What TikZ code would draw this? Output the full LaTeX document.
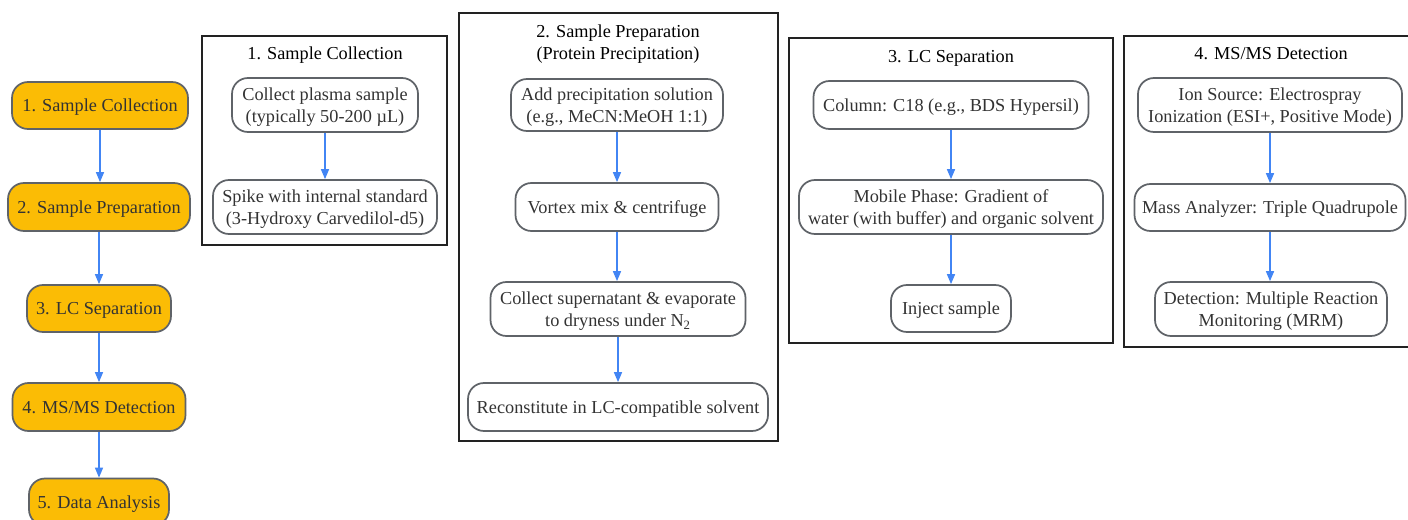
\documentclass[tikz,border=0pt]{standalone}
\usepackage{fontspec}
\setmainfont{Liberation Serif}
\newfontfamily\diagfont{Liberation Serif}
\usetikzlibrary{arrows.meta}
\definecolor{stepfill}{HTML}{FBBC05}
\definecolor{stepline}{HTML}{5F6368}
\definecolor{arrowblue}{HTML}{4285F4}
\definecolor{txt}{HTML}{333333}
\definecolor{boxline}{HTML}{222222}
\tikzset{
  every node/.style={font=\diagfont\fontsize{13.7}{16.5}\selectfont},
  oneline/.style={text height=12.4pt, text depth=3pt},
  twoline/.style={text height=29.8pt, text depth=3pt},
  mainstep/.style={draw=stepline, fill=stepfill, line width=1.3pt, rounded corners=12pt, inner sep=0pt, align=center, text=txt},
  substep/.style={draw=stepline, fill=white, line width=1.3pt, rounded corners=12pt, inner sep=0pt, align=center, text=txt},
  groupbox/.style={draw=boxline, line width=1pt, inner sep=0pt},
  grouptitle/.style={align=center, text=black, inner sep=0pt},
  flow/.style={draw=arrowblue, line width=1.1pt, -{Triangle[length=7.5pt,width=6pt]}},
}
\begin{document}
\begin{tikzpicture}[x=0.75pt,y=-0.75pt]
\clip (0,0) rectangle (1408,520);
\fill[white] (0,0) rectangle (1408,520);

% left column
\node[mainstep, oneline, minimum width=132pt, minimum height=35.25pt] (n1) at (100,105.5) {1. Sample Collection};
\node[mainstep, oneline, minimum width=136.5pt, minimum height=36pt] (n2) at (99,207) {2. Sample Preparation};
\node[mainstep, oneline, minimum width=108pt, minimum height=35.25pt] (n3) at (99,308.5) {3. LC Separation};
\node[mainstep, oneline, minimum width=129.75pt, minimum height=36pt] (n4) at (99,407) {4. MS/MS Detection};
\node[mainstep, oneline, minimum width=105pt, minimum height=35.25pt] (n5) at (99,502) {5. Data Analysis};
\draw[flow] (n1) -- (n1 |- n2.north);
\draw[flow] (n2) -- (n2 |- n3.north);
\draw[flow] (n3) -- (n3 |- n4.north);
\draw[flow] (n4) -- (n4 |- n5.north);

% group 1
\node[groupbox, minimum width=183.75pt, minimum height=156.75pt] (g1) at (324.5,140.5) {};
\node[grouptitle, oneline] (g1t) at (325,53) {1. Sample Collection};
\node[substep, twoline, minimum width=139.5pt, minimum height=40.5pt] (a1) at (325,105) {Collect plasma sample\\(typically 50-200 µL)};
\node[substep, twoline, minimum width=168pt, minimum height=40.5pt] (a2) at (325,207) {Spike with internal standard\\(3-Hydroxy Carvedilol-d5)};
\draw[flow] (a1) -- (a1 |- a2.north);

% group 2
\node[groupbox, minimum width=239.25pt, minimum height=321pt] (g2) at (618.5,227) {};
\node[grouptitle, twoline] (g2t) at (618,42) {2. Sample Preparation\\(Protein Precipitation)};
\node[substep, twoline, minimum width=159pt, minimum height=39pt] (b1) at (617,105) {Add precipitation solution\\(e.g., MeCN:MeOH 1:1)};
\node[substep, oneline, minimum width=152.25pt, minimum height=36pt] (b2) at (617,207) {Vortex mix \& centrifuge};
\node[substep, twoline, minimum width=191.25pt, minimum height=40.5pt] (b3) at (618,309) {Collect supernatant \& evaporate\\to dryness under N\textsubscript{2}};
\node[substep, oneline, minimum width=225pt, minimum height=36pt] (b4) at (618,407) {Reconstitute in LC-compatible solvent};
\draw[flow] (b1) -- (b1 |- b2.north);
\draw[flow] (b2) -- (b2 |- b3.north);
\draw[flow] (b3) -- (b3 |- b4.north);

% group 3
\node[groupbox, minimum width=243pt, minimum height=228.75pt] (g3) at (951,190.5) {};
\node[grouptitle, oneline] (g3t) at (951,56) {3. LC Separation};
\node[substep, oneline, minimum width=206.25pt, minimum height=36pt] (c1) at (951,105) {Column: C18 (e.g., BDS Hypersil)};
\node[substep, twoline, minimum width=228pt, minimum height=40.5pt] (c2) at (951,207) {Mobile Phase: Gradient of\\water (with buffer) and organic solvent};
\node[substep, oneline, minimum width=90pt, minimum height=35.25pt] (c3) at (951,308.5) {Inject sample};
\draw[flow] (c1) -- (c1 |- c2.north);
\draw[flow] (c2) -- (c2 |- c3.north);

% group 4
\node[groupbox, minimum width=216pt, minimum height=233.25pt] (g4) at (1268,191.5) {};
\node[grouptitle, oneline] (g4t) at (1271,53) {4. MS/MS Detection};
\node[substep, twoline, minimum width=198pt, minimum height=40.5pt] (d1) at (1270,105) {Ion Source: Electrospray\\Ionization (ESI+, Positive Mode)};
\node[substep, oneline, minimum width=203.25pt, minimum height=35.25pt] (d2) at (1270,207.5) {Mass Analyzer: Triple Quadrupole};
\node[substep, twoline, minimum width=174pt, minimum height=40.5pt] (d3) at (1271,309) {Detection: Multiple Reaction\\Monitoring (MRM)};
\draw[flow] (d1) -- (d1 |- d2.north);
\draw[flow] (d2) -- (d2 |- d3.north);
\end{tikzpicture}
\end{document}
